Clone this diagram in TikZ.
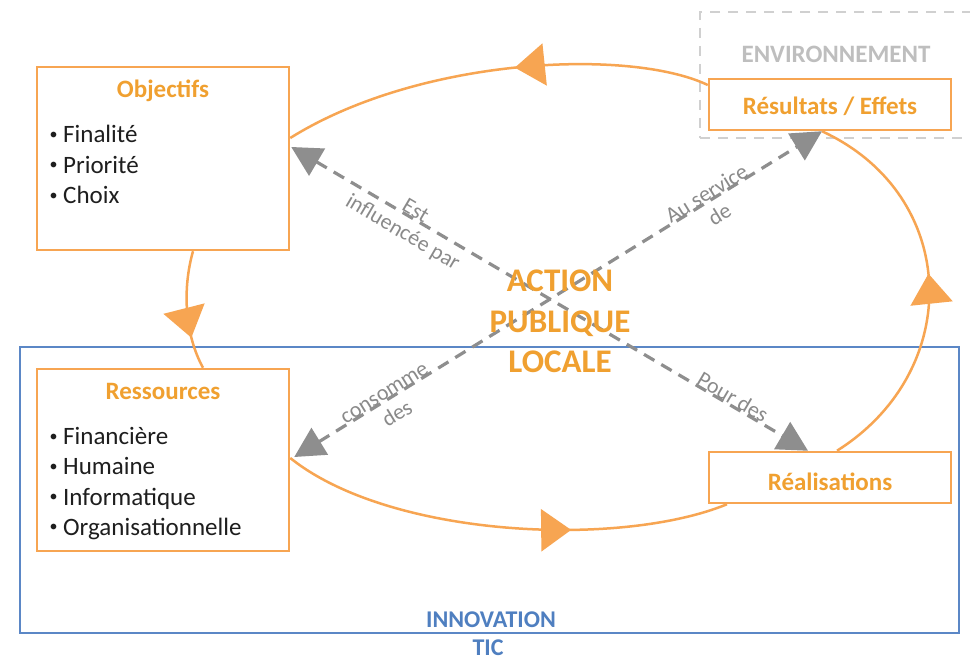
\documentclass[tikz,border=0pt]{standalone}
\usepackage{fontspec}
\setmainfont{Carlito}
\usetikzlibrary{arrows.meta,decorations.markings,backgrounds}
\definecolor{orangeL}{HTML}{F7A552}
\definecolor{orangeT}{HTML}{F0A030}
\definecolor{blueL}{HTML}{5B87C6}
\definecolor{blueT}{HTML}{4F7FC0}
\definecolor{grayA}{HTML}{8E8E8E}
\definecolor{grayT}{HTML}{8A8A8A}
\definecolor{envT}{HTML}{BEBEBE}
\definecolor{envL}{HTML}{D0D0D0}
\definecolor{txt}{HTML}{1E1E1E}
\newcommand{\bulletmark}{\makebox[16pt][l]{\hspace{2.5pt}\raisebox{3.6pt}{\fontsize{16}{16}\selectfont •}}}
\begin{document}
\begin{tikzpicture}[x=1pt,y=-1pt,
  box/.style={draw=orangeL, line width=2.5pt, fill=white, inner sep=0pt, rectangle},
  ttl/.style={font=\fontsize{25}{30}\selectfont\bfseries, text=orangeT, anchor=base, inner sep=0pt},
  itm/.style={font=\fontsize{25}{30}\selectfont, text=txt, anchor=base west, inner sep=0pt},
  lbl/.style={font=\fontsize{22}{25}\selectfont, text=grayT, align=center, inner sep=0pt},
  center/.style={font=\fontsize{33}{40}\selectfont\bfseries, text=orangeT, anchor=base, inner sep=0pt},
  flow/.style={draw=orangeL, line width=2.5pt,
    decoration={markings, mark=at position #1 with {\arrow{Triangle[length=30pt,width=42pt]}}},
    postaction={decorate}},
  garrow/.style={draw=grayA, line width=3.2pt, dash pattern=on 12pt off 8pt,
    {Triangle[length=30pt,width=31pt]}-{Triangle[length=30pt,width=31pt]}}
]
\useasboundingbox (0,0) rectangle (970,660);

\begin{scope}[on background layer]
  \fill[white] (0,0) rectangle (970,660);
  \node[draw=blueL, line width=2pt, minimum width=939pt, minimum height=286pt, inner sep=0pt] (tic) at (489.5,490) {};
  \node[draw=envL, line width=2pt, dash pattern=on 10pt off 8pt, minimum width=280pt, minimum height=126pt, inner sep=0pt] (env) at (840,75) {};
\end{scope}

% Labels of containers
\node[font=\fontsize{25}{30}\selectfont\bfseries, text=envT, anchor=base, inner sep=0pt] (envT) at (836,63) {ENVIRONNEMENT};
\node[font=\fontsize{24}{29}\selectfont\bfseries, text=blueT, anchor=base, inner sep=0pt] (ticA) at (491,627) {INNOVATION};
\node[font=\fontsize{24}{29}\selectfont\bfseries, text=blueT, anchor=base, inner sep=0pt] (ticB) at (488,655) {TIC};

% Objectifs
\node[box, minimum width=252pt, minimum height=183pt] (obj) at (163,158.5) {};
\node[ttl] (objT) at (163,98) {Objectifs};
\node[itm] (o1) at (47,143) {\bulletmark Finalité};
\node[itm] (o2) at (47,173.5) {\bulletmark Priorité};
\node[itm] (o3) at (47,204) {\bulletmark Choix};

% Ressources
\node[box, minimum width=252pt, minimum height=182pt] (res) at (163,460) {};
\node[ttl] (resT) at (163,400) {Ressources};
\node[itm] (r1) at (47,445) {\bulletmark Financière};
\node[itm] (r2) at (47,475) {\bulletmark Humaine};
\node[itm] (r3) at (47,505) {\bulletmark Informatique};
\node[itm] (r4) at (47,535) {\bulletmark Organisationnelle};

% Resultats
\node[box, minimum width=242pt, minimum height=51pt] (resu) at (830,104.5) {};
\node[ttl] (resuT) at (830,115) {Résultats / Effets};

% Realisations
\node[box, minimum width=242pt, minimum height=51pt] (real) at (830,477.5) {};
\node[ttl] (realT) at (830,490) {Réalisations};

% Centre
\node[center] (act1) at (560,292) {ACTION};
\node[center] (act2) at (560,333) {PUBLIQUE};
\node[center] (act3) at (560,373) {LOCALE};

% Connector labels
\node[lbl, rotate=-30.5] (l1) at (408.7,222.6) {Est\\influencée par};
\node[lbl, rotate=31.6] (l2) at (713,204) {Au service\\de};
\node[lbl, rotate=31.6] (l3) at (391.5,404.6) {consomme\\des};
\node[lbl, rotate=-30.5] (l4) at (733,397) {Pour des};

\begin{scope}[on background layer]
  % dashed relations
  \draw[garrow] ([xshift=1pt,yshift=11.5pt]obj.east) -- ([xshift=-22pt]real.north);
  \draw[garrow] ([xshift=4pt,yshift=3pt]res.east) -- ([xshift=-8pt]resu.south);
  % cycle
  \draw[flow=0.452] ([yshift=19.5pt]resu.west) .. controls (630,48) and (420,57) .. ([yshift=20.5pt]obj.east);
  \draw[flow=0.73] ([xshift=30pt]obj.south) .. controls (182,290) and (185,335) .. ([xshift=40pt]res.north);
  \draw[flow=0.65] ([yshift=2pt]res.east) .. controls (390,538) and (620,548) .. ([xshift=-103pt]real.south);
  \draw[flow=0.53] ([xshift=7pt]real.north) .. controls (965,370) and (960,195) .. ([xshift=-8pt]resu.south);
\end{scope}
\end{tikzpicture}
\end{document}
